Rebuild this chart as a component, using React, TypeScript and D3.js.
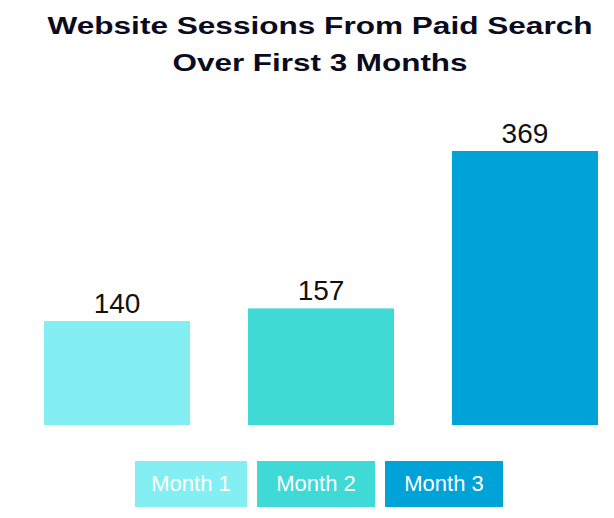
import React, { useEffect, useRef } from "react";
import * as d3 from "d3";

const categories = ["Month 1", "Month 2", "Month 3"];
const values = [140, 157, 369];
const colors = ["#83EFF3", "#3FD9D6", "#00A3D7"];
const titleLines = ["Website Sessions From Paid Search", "Over First 3 Months"];

const W = 614;
const H = 518;

export default function App() {
  const ref = useRef<SVGSVGElement | null>(null);

  useEffect(() => {
    const svg = d3.select(ref.current);
    svg.selectAll("*").remove();

    const x = d3.scaleBand<string>().domain(categories).range([44, 598]).paddingInner(0.284).paddingOuter(0);
    const y = d3.scaleLinear().domain([0, 369]).range([425, 151]);

    // Title
    const title = svg.append("g").attr("font-family", "'Liberation Sans', Arial, sans-serif").attr("font-weight", 700).attr("fill", "#0b0b1e");
    const tl = [
      { t: titleLines[0], x: 320, y: 34, len: 545 },
      { t: titleLines[1], x: 320, y: 71, len: 295 },
    ];
    tl.forEach((d) => {
      title
        .append("text")
        .attr("x", d.x)
        .attr("y", d.y)
        .attr("text-anchor", "middle")
        .attr("font-size", 24)
        .attr("textLength", d.len)
        .attr("lengthAdjust", "spacingAndGlyphs")
        .text(d.t);
    });

    // Bars
    const data = categories.map((c, i) => ({ c, v: values[i], col: colors[i] }));
    svg
      .append("g")
      .selectAll("rect")
      .data(data)
      .join("rect")
      .attr("x", (d) => x(d.c)!)
      .attr("y", (d) => y(d.v))
      .attr("width", x.bandwidth())
      .attr("height", (d) => y(0) - y(d.v))
      .attr("fill", (d) => d.col);

    // Value labels
    svg
      .append("g")
      .selectAll("text")
      .data(data)
      .join("text")
      .attr("x", (d) => x(d.c)! + x.bandwidth() / 2)
      .attr("y", (d) => y(d.v) - 8)
      .attr("text-anchor", "middle")
      .attr("font-family", "'Liberation Sans', Arial, sans-serif")
      .attr("font-size", 28)
      .attr("fill", "#111")
      .text((d) => String(d.v));

    // Legend
    const legendX = [135, 257, 385];
    const legendW = [112, 118, 118];
    const lg = svg.append("g");
    data.forEach((d, i) => {
      lg.append("rect")
        .attr("x", legendX[i])
        .attr("y", 461)
        .attr("width", legendW[i])
        .attr("height", 46)
        .attr("fill", d.col);
      lg.append("text")
        .attr("x", legendX[i] + legendW[i] / 2)
        .attr("y", 491)
        .attr("text-anchor", "middle")
        .attr("font-family", "'Liberation Sans', Arial, sans-serif")
        .attr("font-size", 22)
        .attr("fill", "#fff")
        .text(d.c);
    });
  }, []);

  return (
    <svg
      ref={ref}
      width={W}
      height={H}
      style={{ position: "absolute", left: 0, top: 0, background: "#fff" }}
    />
  );
}
